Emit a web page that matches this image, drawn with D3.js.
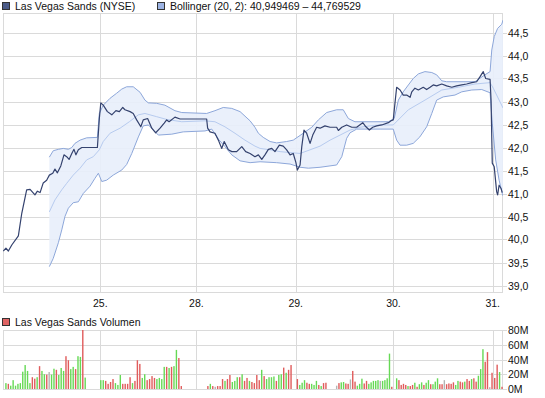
<!DOCTYPE html>
<html>
<head>
<meta charset="utf-8">
<script src="https://cdn.jsdelivr.net/npm/d3@7"></script>
<style>
  body { margin: 0; background: #fff; }
  text { font-family: "Liberation Sans", Arial, sans-serif; font-size: 10.5px; fill: #111; }
</style>
</head>
<body>
<svg id="chart" width="545" height="398"></svg>
<script>
// x values are in trading slots (one slot ~ one volume bar)
const dayTicks = [39.9, 79.3, 120.0, 160.1, 200.8];
const dayLabels = ["25.", "28.", "29.", "30.", "31."];
const priceTicks = [39, 39.5, 40, 40.5, 41, 41.5, 42, 42.5, 43, 43.5, 44, 44.5];
const volTicks = [0, 20, 40, 60, 80];

// price, [slot, value]
const price = [[0.1,39.75],[1.2,39.81],[2.2,39.75],[3.6,39.88],[6.3,40.08],[7.7,40.57],[9.7,41.08],[11.1,41.09],[13.1,40.97],[14.1,41.05],[15.2,41.02],[16.5,41.23],[17.9,41.29],[19.0,41.40],[20.4,41.44],[21.3,41.53],[22.3,41.45],[23.7,41.60],[25.0,41.84],[26.1,41.80],[27.1,41.74],[28.2,41.87],[29.1,41.96],[29.9,41.84],[30.9,41.95],[32.3,42.00],[38.7,42.00],[39.5,42.63],[40.1,42.97],[41.1,42.92],[42.8,42.78],[44.6,42.71],[46.3,42.80],[47.7,42.78],[49.1,42.87],[50.0,42.82],[52.1,42.78],[53.4,42.74],[54.8,42.60],[56.5,42.45],[57.5,42.60],[59.3,42.63],[61.0,42.42],[62.6,42.32],[64.4,42.42],[66.1,42.53],[67.1,42.60],[68.1,42.56],[70.5,42.66],[72.6,42.62],[83.5,42.62],[83.9,42.42],[84.9,42.34],[86.9,42.31],[88.3,42.16],[89.7,41.98],[90.7,42.13],[92.4,41.95],[93.8,41.91],[95.8,41.91],[97.9,42.02],[99.5,41.91],[101.3,41.87],[103.3,41.80],[104.7,41.84],[106.1,41.74],[107.4,41.84],[108.8,41.96],[110.2,41.98],[111.5,41.91],[113.3,42.05],[114.9,42.03],[116.3,41.95],[117.7,41.84],[119.0,41.87],[120.1,41.67],[120.7,41.51],[121.8,41.62],[122.5,42.02],[123.4,42.38],[124.5,42.31],[125.9,42.09],[127.0,42.27],[128.6,42.44],[130.0,42.42],[132.0,42.47],[134.1,42.44],[136.8,42.44],[137.5,42.37],[138.9,42.44],[140.9,42.49],[143.0,42.44],[145.0,42.44],[147.5,42.54],[148.8,42.45],[150.2,42.38],[151.6,42.44],[153.2,42.47],[155.3,42.49],[158.0,42.54],[159.1,42.58],[160.0,42.60],[160.7,42.96],[161.4,43.31],[162.8,43.25],[164.1,43.14],[165.5,43.14],[166.9,43.09],[167.6,43.21],[168.9,43.29],[170.3,43.25],[172.3,43.31],[173.7,43.26],[175.1,43.31],[176.4,43.36],[177.8,43.34],[179.9,43.38],[181.9,43.34],[184.0,43.31],[186.0,43.34],[188.1,43.36],[190.1,43.38],[192.2,43.41],[194.2,43.43],[195.6,43.54],[196.9,43.65],[197.9,43.50],[199.7,43.48],[200.1,43.03],[200.6,41.66],[201.4,41.58],[202.4,41.04],[202.8,40.97],[203.4,41.18],[204.2,41.11],[204.7,41.02]];

// Bollinger (20, 2)
const bbUpper = [[19.0,41.79],[20.6,41.93],[22.7,41.96],[24.7,41.98],[26.8,41.96],[28.2,42.00],[29.5,42.09],[31.6,42.16],[34.3,42.21],[38.7,42.22],[39.5,42.74],[41.1,42.92],[43.9,43.07],[46.6,43.18],[48.7,43.27],[50.7,43.32],[53.4,43.32],[56.2,43.20],[58.2,43.03],[59.6,42.97],[63.0,42.96],[66.4,42.92],[70.5,42.80],[73.3,42.76],[83.5,42.74],[86.9,42.80],[90.3,42.87],[93.8,42.85],[97.2,42.78],[101.3,42.58],[103.3,42.44],[104.7,42.31],[106.7,42.22],[109.5,42.13],[112.2,42.10],[116.3,42.13],[119.0,42.16],[123.1,42.31],[126.6,42.44],[129.3,42.60],[132.7,42.76],[136.8,42.82],[139.5,42.82],[141.6,42.63],[144.3,42.56],[154.6,42.56],[158.0,42.56],[160.4,42.63],[162.1,43.03],[164.1,43.21],[166.2,43.36],[168.2,43.50],[170.3,43.60],[173.0,43.65],[175.8,43.63],[177.8,43.58],[179.9,43.45],[181.9,43.43],[193.5,43.43],[197.6,43.58],[199.7,43.65],[200.4,44.12],[201.4,44.41],[202.8,44.59],[204.5,44.68],[205.0,44.77]];
const bbMiddle = [[19.0,40.60],[21.3,40.86],[24.1,41.08],[26.1,41.22],[28.8,41.40],[31.6,41.55],[34.3,41.73],[37.0,41.80],[39.5,41.95],[41.1,42.13],[43.9,42.31],[48.0,42.42],[51.8,42.56],[55.5,42.71],[58.2,42.74],[63.0,42.67],[67.1,42.61],[73.3,42.56],[82.8,42.58],[86.9,42.56],[91.0,42.45],[95.1,42.31],[99.2,42.16],[103.3,42.03],[105.4,41.98],[109.5,41.95],[113.6,41.91],[117.7,41.89],[121.8,41.87],[125.9,41.95],[130.0,42.03],[134.1,42.16],[138.2,42.27],[142.3,42.38],[146.4,42.44],[150.5,42.47],[154.6,42.49],[160.0,42.49],[166.2,42.82],[173.0,43.03],[179.9,43.25],[186.7,43.31],[193.5,43.38],[199.7,43.41],[201.0,43.29],[205.0,42.86]];
const bbLower = [[19.0,39.41],[20.6,39.59],[22.7,39.93],[24.1,40.21],[25.4,40.50],[26.8,40.68],[28.8,40.80],[30.9,40.82],[32.9,41.00],[35.7,41.16],[37.7,41.33],[39.1,41.44],[40.5,41.26],[42.5,41.29],[45.2,41.40],[48.7,41.51],[50.7,41.63],[52.8,41.87],[55.5,42.23],[57.5,42.47],[59.6,42.49],[63.7,42.27],[69.2,42.29],[73.9,42.34],[82.8,42.36],[85.6,42.40],[88.3,42.18],[91.0,42.02],[93.8,41.84],[97.2,41.71],[101.3,41.67],[105.4,41.69],[112.2,41.67],[117.7,41.64],[121.8,41.57],[125.2,41.55],[130.0,41.57],[136.8,41.62],[138.9,41.80],[140.9,42.20],[142.3,42.32],[145.0,42.40],[154.6,42.40],[160.0,42.40],[161.4,42.16],[162.8,42.05],[165.5,42.05],[168.2,42.09],[170.9,42.23],[173.7,42.45],[175.8,42.74],[177.8,43.03],[180.5,43.10],[185.3,43.14],[188.1,43.21],[192.2,43.25],[196.3,43.26],[199.7,43.19],[200.6,42.53],[202.0,41.73],[203.4,41.29],[204.7,41.00],[205.0,40.95]];

// volume in millions, per block of bars; g = up, r = down, n = unchanged
const volSpans = [[1.2,33.7],[40.1,73.1],[84.0,118.1],[120.7,132.4],[136.8,159.4],[161.4,200.5],[201.6,204.6]];
const volValues = [
  [8,7,4.5,12,4.5,7,8,23.5,32.5,24.5,8,16,14,16,31,24.5,20,19.5,23,19.5,27.5,26,19,28.5,24.5,44.5,39,27,30,27,44.5,43.5,80,15.5],
  [12,12,11,7,9.5,13.5,8,5.5,19,7,7,7,16,8,11,39,34,15,20,12,13.5,17.5,15,13.5,15,13.5,30,30,28.5,30,31,53,42,4],
  [4,7,4,3,4,4,13.5,11,13.5,19,9.5,11,16,16,20,11,15,11,9.5,8,19,12,26,17.5,13.5,16,16,17,11,19,20,29,22,26,32.5],
  [13.5,5.5,8.5,12,8.5,7,7,5.5,11,5.5,4,8,8.5],
  [4.5,8,9,9.5,7.5,7,13,24.5,10,4.5,7,14,7.5,11,7,9,11,11,12,11,11,12,14.5,48,3],
  [14.5,12,5.5,7,5.5,4,4,5.5,8.5,3,6.5,9,5.5,8.5,12,6.5,6.5,10,14.5,6.5,6.5,12,6.5,7.5,7,9,5.5,11,10,9,10,13.5,11,13.5,14.5,10,18,27,54,37,50,2.5,22],
  [15,33,23,3]
];
const volDirs = [
  "grgggggggggrrgrggrnggrgggrrggrggrg",
  "ggrrrrgggrrrrgrrrggrrrrggggrgrggrr",
  "rgrnrrrgrrgggrgrrgrrrrgrggggrggrgrr",
  "rgggrrgggrgrr",
  "nrggrrnrrgggrrgggggnggggr",
  "grrrrgrrgrggrggrgggrrnrrrrggrrgrrgrrgggrrnr",
  "rrgr"
];

const colors = { price: "#34426e", band: "#e8effb", bandEdge: "#8da7da", mid: "#b7cbef",
  grid: "#dadada", g: "#66d955", r: "#e05c5c", n: "#b4b4b4" };

const fmtComma = d3.formatLocale({ decimal: ",", thousands: ".", grouping: [3], currency: ["", "€"] });

const svg = d3.select("#chart");
const left = 3, right = 503;
const main = { top: 13, bottom: 293 };
const volp = { top: 330, bottom: 389 };

const x = d3.scaleLinear().domain([0, 205]).range([left, right]);
const y = d3.scaleLinear().domain([39, 44.5]).range([285.5, 32.5]);
const yv = d3.scaleLinear().domain([0, 80]).range([volp.bottom, volp.top]);

// ---- legends
function legend(lx, ly, fill, label) {
  svg.append("rect").attr("x", lx + 0.5).attr("y", ly + 0.5).attr("width", 7).attr("height", 7)
    .attr("fill", fill).attr("stroke", "#333");
  svg.append("text").attr("x", lx + 13).attr("y", ly + 8).text(label);
}
legend(2, 2, "#4b5b88", "Las Vegas Sands (NYSE)");
legend(157, 2, "#9db4e4", "Bollinger (20, 2): 40,949469 \u2013 44,769529");
legend(2, 318, "#e06464", "Las Vegas Sands Volumen");

// ---- main panel grid + axes
const gMain = svg.append("g");
gMain.append("g").attr("shape-rendering", "crispEdges")
  .selectAll("line.h").data(priceTicks).join("line")
  .attr("x1", left).attr("x2", right + 4)
  .attr("y1", d => Math.round(y(d)) + 0.5).attr("y2", d => Math.round(y(d)) + 0.5)
  .attr("stroke", colors.grid);
gMain.append("g").attr("shape-rendering", "crispEdges")
  .selectAll("line.v").data(dayTicks).join("line")
  .attr("x1", d => Math.round(x(d)) + 0.5).attr("x2", d => Math.round(x(d)) + 0.5)
  .attr("y1", main.top).attr("y2", main.bottom)
  .attr("stroke", colors.grid);
gMain.append("rect").attr("shape-rendering", "crispEdges")
  .attr("x", left + 0.5).attr("y", main.top + 0.5)
  .attr("width", right - left - 1).attr("height", main.bottom - main.top - 1)
  .attr("fill", "none").attr("stroke", colors.grid);

gMain.selectAll("text.py").data(priceTicks).join("text")
  .attr("x", right + 5).attr("y", d => Math.round(y(d)) + 4)
  .text(d => fmtComma.format(".1f")(d));

gMain.selectAll("text.dx").data(dayTicks).join("text")
  .attr("x", d => x(d)).attr("y", 307).attr("text-anchor", "middle")
  .text((d, i) => dayLabels[i]);

// ---- Bollinger band
const clip = svg.append("clipPath").attr("id", "clipMain").append("rect")
  .attr("x", left).attr("y", main.top).attr("width", right - left).attr("height", main.bottom - main.top);
const plot = svg.append("g").attr("clip-path", "url(#clipMain)");
const line = d3.line().x(d => x(d[0])).y(d => y(d[1]));

plot.append("path")
  .attr("d", line(bbUpper.concat(bbLower.slice().reverse())) + "Z")
  .attr("fill", colors.band).attr("fill-opacity", 0.92);
plot.append("path").attr("d", line(bbMiddle)).attr("fill", "none")
  .attr("stroke", colors.mid).attr("stroke-width", 1);
plot.append("path").attr("d", line(bbUpper)).attr("fill", "none")
  .attr("stroke", colors.bandEdge).attr("stroke-width", 1);
plot.append("path").attr("d", line(bbLower)).attr("fill", "none")
  .attr("stroke", colors.bandEdge).attr("stroke-width", 1);
plot.append("path").attr("d", line(price)).attr("fill", "none")
  .attr("stroke", colors.price).attr("stroke-width", 1.2).attr("stroke-linejoin", "round");

// ---- volume panel
const gVol = svg.append("g");
gVol.append("g").attr("shape-rendering", "crispEdges")
  .selectAll("line").data(volTicks).join("line")
  .attr("x1", left).attr("x2", right + 4)
  .attr("y1", d => Math.round(yv(d)) + 0.5).attr("y2", d => Math.round(yv(d)) + 0.5)
  .attr("stroke", colors.grid);
gVol.append("g").attr("shape-rendering", "crispEdges")
  .selectAll("line").data(dayTicks).join("line")
  .attr("x1", d => Math.round(x(d)) + 0.5).attr("x2", d => Math.round(x(d)) + 0.5)
  .attr("y1", volp.top).attr("y2", volp.bottom)
  .attr("stroke", colors.grid);
gVol.append("rect").attr("shape-rendering", "crispEdges")
  .attr("x", left + 0.5).attr("y", volp.top + 0.5)
  .attr("width", right - left - 1).attr("height", volp.bottom - volp.top)
  .attr("fill", "none").attr("stroke", colors.grid);

gVol.selectAll("text").data(volTicks).join("text")
  .attr("x", right + 5).attr("y", d => Math.round(yv(d)) + 4)
  .text(d => d + "M");

const bars = [];
volValues.forEach((vals, k) => {
  const [t0, t1] = volSpans[k];
  const step = vals.length > 1 ? (t1 - t0) / (vals.length - 1) : 0;
  vals.forEach((v, i) => bars.push({ t: t0 + i * step, v: v, dir: volDirs[k][i] || "g" }));
});
gVol.append("g").selectAll("rect").data(bars).join("rect")
  .attr("x", d => x(d.t) - 0.7).attr("width", 1.4)
  .attr("y", d => yv(d.v)).attr("height", d => yv(0) - yv(d.v))
  .attr("fill", d => colors[d.dir]);
</script>
</body>
</html>
